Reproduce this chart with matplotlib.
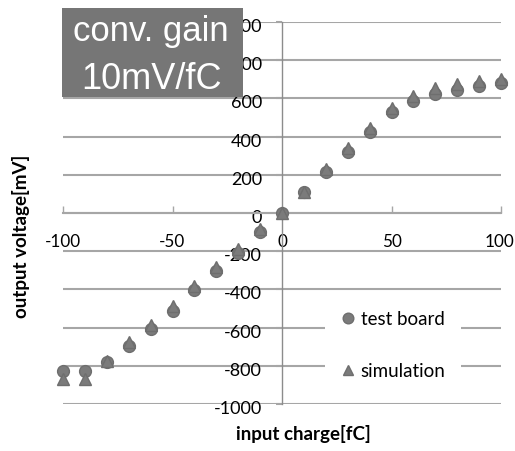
import matplotlib
matplotlib.use("Agg")
import matplotlib.pyplot as plt
from matplotlib.patches import Rectangle
from matplotlib.transforms import ScaledTranslation

# ---- data ----
charge = [-100, -90, -80, -70, -60, -50, -40, -30, -20, -10, 0,
          10, 20, 30, 40, 50, 60, 70, 80, 90, 100]
test_board = [-828, -828, -782, -698, -607, -511, -405, -305, -208, -101, 0,
              110, 213, 318, 426, 527, 588, 623, 644, 667, 681]
simulation = [-870, -870, -775, -677, -586, -488, -382, -285, -190, -85, 0,
              112, 228, 340, 445, 548, 614, 655, 675, 693, 702]
x_ticks = [-100, -50, 0, 50, 100]
y_ticks = [-1000, -800, -600, -400, -200, 0, 200, 400, 600, 800, 1000]
series_names = ["test board", "simulation"]
box_lines = ["conv. gain", "10mV/fC"]
x_label = "input charge[fC]"
y_label = "output voltage[mV]"

W, H = 515, 451
fig = plt.figure(figsize=(W / 100, H / 100), dpi=100)
fig.patch.set_facecolor("white")

ax = fig.add_axes([63 / W, 1 - 404 / H, 438 / W, 382 / H])
ax.set_xlim(-100, 100)
ax.set_ylim(-1000, 1000)

grid_c = "#a6a6a6"
marker_c = "#7b7b7b"
tick_font = "Lato"

# spines through the origin
for s in ["top", "right"]:
    ax.spines[s].set_visible(False)
ax.spines["left"].set_position(("data", 0))
ax.spines["bottom"].set_position(("data", 0))
ax.spines["left"].set_color("#8c8c8c")
ax.spines["bottom"].set_color(grid_c)
ax.spines["left"].set_linewidth(1.0)
ax.spines["bottom"].set_linewidth(1.5)

ax.set_xticks(x_ticks)
ax.set_yticks(y_ticks)
ax.set_xticklabels([str(v) for v in x_ticks], fontsize=12.3, family=tick_font)
ax.set_yticklabels([str(v) for v in y_ticks], fontsize=13, family=tick_font)
ax.tick_params(axis="x", direction="in", length=5, width=1, color=grid_c, pad=15)
ax.tick_params(axis="y", direction="out", length=4, width=1.5, color=grid_c, pad=10.5)
shift = ScaledTranslation(0, -3.5 / 100, fig.dpi_scale_trans)
for lab in ax.get_yticklabels():
    lab.set_transform(lab.get_transform() + shift)
xshift = ScaledTranslation(-1.5 / 100, 0, fig.dpi_scale_trans)
ax.get_xticklabels()[-1].set_transform(ax.get_xticklabels()[-1].get_transform() + xshift)

ax.yaxis.grid(True, color=grid_c, linewidth=1.5)
ax.set_axisbelow(True)

ax.plot(charge, test_board, linestyle="none", marker="o", markersize=8.5,
        color=marker_c, markeredgecolor="#6e6e6e", label=series_names[0],
        zorder=3, clip_on=False)
ax.plot(charge, simulation, linestyle="none", marker="^", markersize=8.5,
        color=marker_c, markeredgecolor="#6e6e6e", label=series_names[1],
        zorder=4, clip_on=False)

leg = ax.legend(loc="center", bbox_to_anchor=(0.753, 0.154), frameon=True,
                fancybox=False, framealpha=1, facecolor="white", edgecolor="none",
                prop={"family": tick_font, "size": 13.5}, labelspacing=1.85,
                handlelength=0.8, handletextpad=0.3, borderpad=0.8,
                markerscale=0.9)

fig.text(21 / W, 1 - 236 / H, y_label, rotation=90, ha="center", va="center",
         fontsize=13.5, fontweight="bold", family=tick_font)
fig.text(303 / W, 1 - 434 / H, x_label, ha="center", va="center",
         fontsize=13.5, fontweight="bold", family=tick_font)

# gray annotation box
fig.patches.append(Rectangle((62 / W, 1 - 97 / H), 181 / W, 89 / H,
                             transform=fig.transFigure, facecolor="#767676",
                             edgecolor="none", zorder=5))
fig.text(151 / W, 1 - 41.5 / H, box_lines[0], ha="center", va="baseline",
         fontsize=25, color="white", family="Liberation Sans", zorder=6)
fig.text(152 / W, 1 - 89 / H, box_lines[1], ha="center", va="baseline",
         fontsize=26, color="white", family="Liberation Sans", zorder=6)

fig.savefig("out.png", dpi=100, facecolor="white")
